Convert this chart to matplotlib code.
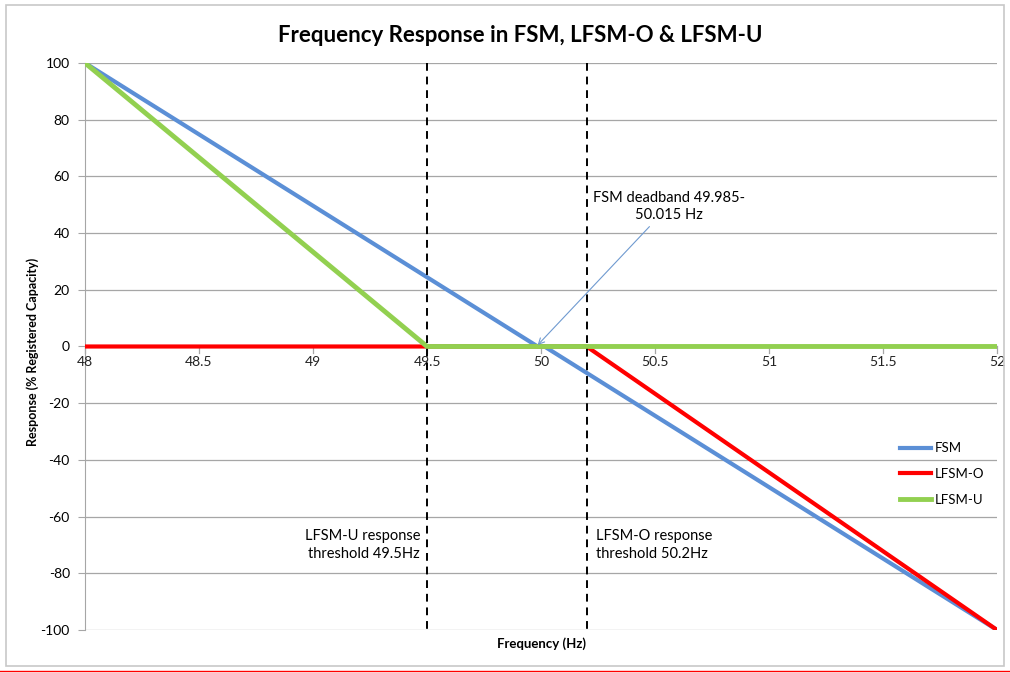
import matplotlib.pyplot as plt
from matplotlib.lines import Line2D

plt.rcParams['font.family'] = ['Lato', 'DejaVu Sans']
plt.rcParams['axes.unicode_minus'] = False

# data
fsm_x = [48, 49.985, 50.015, 52]
fsm_y = [100, 0, 0, -100]
lfsmo_x = [48, 50.2, 52]
lfsmo_y = [0, 0, -100]
lfsmu_x = [48, 49.5, 52]
lfsmu_y = [100, 0, 0]
thresholds = [49.5, 50.2]
xticks = [48, 48.5, 49, 49.5, 50, 50.5, 51, 51.5, 52]
yticks = [-100, -80, -60, -40, -20, 0, 20, 40, 60, 80, 100]

fig = plt.figure(figsize=(10.1, 6.73), dpi=100)
ax = fig.add_axes([0.0842, 0.0639, 0.9030, 0.8425])

grid_c = '#a6a6a6'
for yv in yticks:
    ax.axhline(yv, color=grid_c, lw=0.9, zorder=0)

ax.plot(fsm_x, fsm_y, color='#5b8fd6', lw=3, label='FSM', zorder=3)
ax.plot(lfsmo_x, lfsmo_y, color='#ff0000', lw=3, label='LFSM-O', zorder=4)
ax.plot(lfsmu_x, lfsmu_y, color='#92d050', lw=3.5, label='LFSM-U', zorder=5)

for t in thresholds:
    ax.plot([t, t], [100, -100], color='black', lw=1.4, ls=(0, (4, 3)), zorder=6)

ax.set_xlim(48, 52)
ax.set_ylim(-100, 100)
ax.set_yticks(yticks)
ax.set_xticks([])

for s in ['top', 'right', 'bottom']:
    ax.spines[s].set_visible(False)
ax.spines['left'].set_color(grid_c)
ax.tick_params(axis='y', length=5, color=grid_c, labelsize=10, pad=6)

# x axis crosses at y=0: tick marks and labels drawn there
for v in xticks:
    ax.plot([v, v], [0, -2.2], color=grid_c, lw=0.9, zorder=1, clip_on=False)
    ax.text(v, -3.5, f'{v:g}', ha='center', va='top', fontsize=10, color='#222222')

ax.set_ylabel('Response (% Registered Capacity)', fontsize=9, fontweight='bold')
ax.yaxis.set_label_coords(-0.051, 0.49)
ax.text(50.0, -102.5, 'Frequency (Hz)', ha='center', va='top', fontsize=9.5, fontweight='bold')

fig.text(0.515, 0.947, 'Frequency Response in FSM, LFSM-O & LFSM-U', ha='center', va='center',
         fontsize=16, fontweight='bold')

ax.annotate('FSM deadband 49.985-\n50.015 Hz', xy=(49.985, 0.5), xytext=(50.56, 49.5),
            ha='center', va='center', fontsize=10.5, linespacing=1.3,
            arrowprops=dict(arrowstyle='->', color='#6f9ad0', lw=0.8, shrinkA=2, shrinkB=0),
            zorder=7)
ax.text(49.47, -70, 'LFSM-U response\nthreshold 49.5Hz', ha='right', va='center',
        fontsize=10.5, linespacing=1.3)
ax.text(50.24, -70, 'LFSM-O response\nthreshold 50.2Hz', ha='left', va='center',
        fontsize=10.5, linespacing=1.3)

leg = ax.legend(loc='center left', bbox_to_anchor=(0.88, 0.275), frameon=False,
                fontsize=9.5, handlelength=2.4, handletextpad=0.25, labelspacing=1.05)

# chart area border
fig.add_artist(plt.Rectangle((0.006, 0.01), 0.988, 0.982, transform=fig.transFigure,
                             fill=False, edgecolor='#c8c8c8', lw=1.2))
fig.add_artist(Line2D([0, 1], [0.003, 0.003], transform=fig.transFigure, color='red', lw=1))

fig.savefig('out.png', dpi=100)
